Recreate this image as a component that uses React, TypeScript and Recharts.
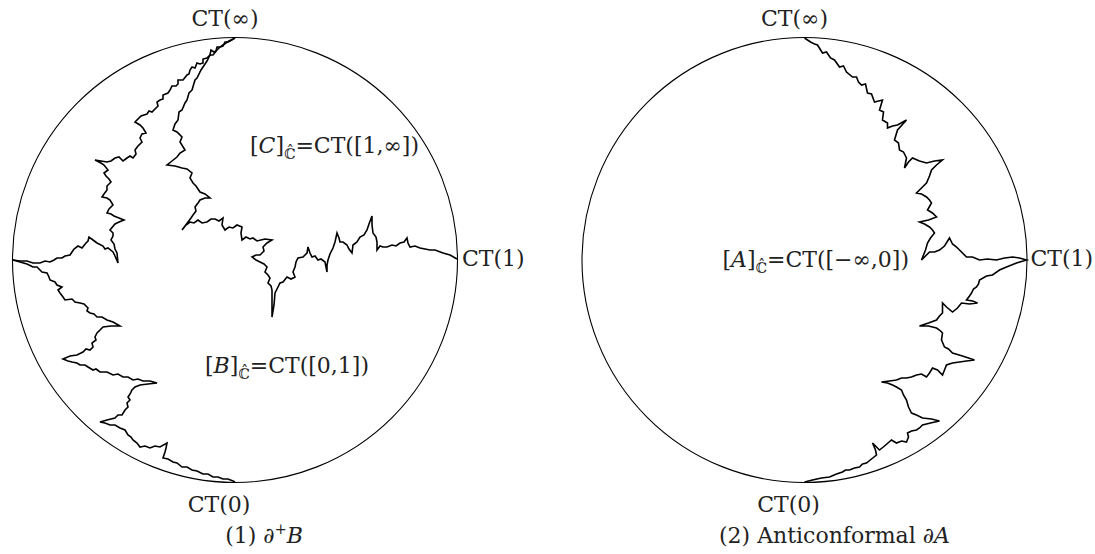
import { ScatterChart, Scatter, XAxis, YAxis, ReferenceDot } from 'recharts';

type Pt = [number, number];

// each panel uses the circle centre as origin, y up, radius 222.5
const RADIUS = 222.5;
const HEIGHT = 554;

// (1) left disc: boundary from CT(inf) down the left side to the leftmost touch point
const leftOuter: Pt[] = [
    [0, 222], [-5, 219], [-7, 218], [-10, 218], [-12, 214], [-15, 213], [-18, 213], [-19, 209], [-21, 208],
    [-24, 210], [-25, 205], [-28, 202], [-32, 201], [-32, 197], [-35, 196], [-38, 197], [-40, 192], [-43, 193],
    [-45, 190], [-46, 186], [-48, 185], [-52, 180], [-57, 180], [-57, 176], [-59, 174], [-63, 174], [-65, 170],
    [-67, 167], [-72, 165], [-72, 161], [-75, 160], [-78, 158], [-77, 154], [-79, 152], [-83, 148], [-86, 149],
    [-88, 146], [-94, 144], [-100, 138], [-95, 135], [-92, 132], [-89, 127], [-93, 126], [-95, 122], [-93, 118],
    [-97, 114], [-100, 110], [-99, 106], [-102, 102], [-105, 104], [-108, 102], [-112, 99], [-116, 103], [-120, 102],
    [-124, 99], [-128, 98], [-134, 99], [-140, 100], [-134, 97], [-131, 95], [-127, 90], [-131, 87], [-129, 84],
    [-126, 81], [-124, 78], [-128, 74], [-128, 70], [-131, 66], [-133, 63], [-128, 62], [-125, 60], [-122, 55],
    [-126, 51], [-128, 47], [-124, 46], [-121, 44], [-116, 42], [-111, 40], [-116, 38], [-120, 36], [-125, 30],
    [-122, 27], [-122, 24], [-124, 20], [-121, 16], [-120, 11], [-118, 7], [-117, -3], [-120, 4], [-122, 8],
    [-127, 12], [-130, 11], [-132, 14], [-138, 17], [-142, 20], [-146, 23], [-147, 19], [-149, 17], [-153, 12],
    [-157, 14], [-161, 11], [-163, 8], [-165, 5], [-170, 4], [-173, 2], [-178, 2], [-181, 0], [-185, -2],
    [-190, -1], [-195, -3], [-202, -3], [-208, -1], [-215, -1], [-222, 0],
];

// (1) left disc: boundary from the leftmost point down to CT(0)
const leftLower: Pt[] = [
    [-222, 0], [-215, -2], [-208, -4], [-202, -7], [-198, -7], [-193, -12], [-188, -13], [-186, -17], [-185, -20],
    [-180, -22], [-178, -25], [-173, -27], [-177, -30], [-175, -33], [-172, -37], [-170, -40], [-163, -39], [-160, -42],
    [-155, -43], [-151, -44], [-147, -48], [-148, -51], [-145, -53], [-141, -54], [-138, -57], [-133, -57], [-128, -60],
    [-122, -62], [-115, -66], [-124, -66], [-132, -67], [-135, -70], [-138, -73], [-140, -77], [-139, -80], [-143, -83],
    [-142, -87], [-145, -90], [-149, -89], [-152, -92], [-158, -95], [-165, -96], [-172, -99], [-167, -101], [-163, -102],
    [-158, -103], [-155, -105], [-150, -105], [-147, -107], [-142, -110], [-139, -109], [-135, -112], [-128, -112], [-122, -115],
    [-117, -114], [-112, -117], [-107, -117], [-102, -120], [-97, -119], [-92, -121], [-85, -121], [-78, -123], [-87, -124],
    [-95, -125], [-100, -127], [-103, -130], [-105, -134], [-107, -137], [-105, -140], [-108, -143], [-107, -147], [-110, -150],
    [-113, -155], [-117, -155], [-120, -158], [-128, -160], [-135, -162], [-130, -163], [-125, -165], [-120, -165], [-115, -168],
    [-110, -170], [-107, -175], [-104, -177], [-102, -180], [-98, -183], [-95, -187], [-90, -186], [-85, -188], [-80, -186],
    [-75, -187], [-68, -183], [-69, -188], [-70, -192], [-72, -198], [-67, -199], [-62, -202], [-58, -203], [-53, -207],
    [-48, -207], [-43, -210], [-38, -211], [-32, -214], [-27, -214], [-22, -217], [-17, -217], [-12, -219], [-7, -219],
    [-2, -221], [0, -222],
];

// (1) left disc: inner boundary from CT(inf) through the two tips to CT(1)
const leftInner: Pt[] = [
    [0, 222], [-6, 219], [-12, 215], [-15, 213], [-18, 210], [-22, 205], [-25, 205], [-28, 199], [-32, 193],
    [-34, 190], [-38, 182], [-40, 180], [-43, 170], [-46, 167], [-48, 160], [-50, 157], [-53, 150], [-56, 148],
    [-57, 140], [-60, 136], [-62, 130], [-58, 128], [-53, 123], [-55, 118], [-50, 110], [-55, 107], [-58, 103],
    [-63, 99], [-68, 95], [-60, 94], [-53, 92], [-48, 91], [-43, 87], [-45, 82], [-42, 77], [-39, 74],
    [-35, 68], [-30, 66], [-25, 62], [-30, 62], [-35, 60], [-37, 57], [-40, 53], [-39, 49], [-42, 45],
    [-44, 42], [-47, 38], [-53, 30], [-49, 35], [-45, 38], [-41, 37], [-37, 40], [-33, 37], [-28, 38],
    [-24, 41], [-20, 41], [-16, 39], [-12, 42], [-13, 35], [-10, 30], [-6, 33], [-2, 32], [2, 35],
    [7, 33], [6, 27], [7, 20], [11, 23], [15, 21], [18, 22], [22, 19], [30, 21], [37, 20],
    [32, 17], [28, 13], [29, 9], [25, 5], [21, 5], [17, 3], [21, 0], [25, -2], [29, -4],
    [32, -7], [30, -12], [33, -15], [35, -18], [33, -23], [36, -26], [37, -30], [37, -57], [39, -45],
    [40, -33], [42, -29], [45, -23], [48, -22], [52, -17], [56, -19], [60, -17], [58, -12], [60, -7],
    [61, -2], [63, 2], [68, 3], [72, 7], [73, 13], [75, 7], [77, 3], [80, 4], [83, 0],
    [86, 1], [90, -2], [92, -12], [92, -5], [93, 0], [95, 6], [98, 12], [100, 18], [102, 27],
    [104, 22], [105, 18], [108, 18], [112, 15], [114, 11], [117, 7], [118, 15], [122, 18], [125, 23],
    [129, 25], [132, 30], [134, 36], [137, 44], [137, 35], [138, 27], [141, 23], [142, 18], [142, 10],
    [145, 14], [148, 13], [152, 13], [157, 15], [161, 14], [165, 17], [169, 18], [172, 22], [173, 17],
    [175, 13], [180, 14], [185, 12], [190, 11], [195, 10], [200, 10], [208, 7], [215, 5], [222, 1],
];

// (2) right disc: boundary CT(inf) -> CT(1) -> CT(0)
const rightCurve: Pt[] = [
    [0, 222], [6, 218], [10, 216], [13, 215], [18, 207], [22, 208], [26, 202], [30, 200], [35, 193],
    [39, 194], [42, 188], [48, 183], [52, 183], [54, 178], [57, 175], [61, 176], [63, 167], [67, 166],
    [70, 158], [78, 160], [75, 150], [79, 148], [78, 140], [83, 137], [83, 132], [88, 134], [93, 135],
    [102, 140], [93, 130], [90, 120], [94, 117], [95, 110], [99, 108], [102, 102], [100, 92], [104, 98],
    [108, 102], [115, 99], [122, 97], [130, 99], [138, 100], [132, 95], [127, 90], [125, 84], [122, 77],
    [119, 74], [115, 70], [112, 67], [117, 66], [122, 63], [125, 60], [127, 57], [123, 50], [128, 47],
    [132, 43], [124, 40], [115, 38], [120, 36], [125, 33], [128, 30], [130, 27], [126, 22], [123, 17],
    [121, 10], [117, 0], [122, 5], [125, 8], [130, 8], [135, 10], [140, 14], [145, 22], [148, 16],
    [152, 13], [156, 9], [162, 3], [168, 3], [175, 0], [183, 1], [192, 0], [200, 2], [208, 3],
    [215, 2], [222, 0], [212, -3], [202, -7], [195, -10], [188, -15], [182, -16], [175, -20], [174, -24],
    [172, -27], [169, -29], [167, -33], [165, -36], [162, -40], [168, -41], [173, -43], [165, -44], [157, -43],
    [153, -48], [148, -52], [142, -47], [138, -43], [138, -53], [135, -56], [132, -60], [124, -63], [115, -66],
    [124, -66], [132, -68], [135, -70], [138, -73], [137, -80], [140, -87], [144, -89], [148, -93], [158, -96],
    [170, -100], [162, -101], [155, -102], [148, -103], [142, -105], [140, -110], [138, -115], [133, -110], [128, -108],
    [125, -113], [122, -117], [117, -114], [112, -115], [107, -117], [102, -118], [97, -118], [92, -120], [85, -121],
    [77, -122], [83, -123], [88, -125], [92, -127], [97, -130], [99, -135], [102, -140], [104, -147], [107, -153],
    [112, -155], [118, -158], [127, -159], [135, -161], [126, -163], [118, -165], [115, -168], [112, -170], [107, -171],
    [103, -173], [104, -177], [102, -182], [97, -181], [92, -183], [87, -180], [80, -186], [75, -190], [68, -183],
    [71, -190], [72, -195], [67, -199], [62, -203], [58, -204], [55, -207], [50, -208], [45, -210], [41, -210],
    [38, -212], [32, -214], [25, -217], [17, -218], [8, -220], [0, -222],
];

type Part = { t: string; it?: boolean; sub?: boolean; sup?: boolean };
type Lbl = { x: number; y: number; anchor: 'start' | 'middle'; parts: Part[] };

const HAT_C = 'ℂ̂';

const leftLabels: Lbl[] = [
    { x: -10, y: 234, anchor: 'middle', parts: [{ t: 'CT(∞)' }] },
    { x: 227, y: -6, anchor: 'start', parts: [{ t: 'CT(1)' }] },
    { x: -16, y: -252, anchor: 'middle', parts: [{ t: 'CT(0)' }] },
    { x: 15, y: 107, anchor: 'start', parts: [{ t: '[' }, { t: 'C', it: true }, { t: ']' }, { t: HAT_C, sub: true }, { t: '=CT([1,∞])' }] },
    { x: -30, y: -113, anchor: 'start', parts: [{ t: '[' }, { t: 'B', it: true }, { t: ']' }, { t: HAT_C, sub: true }, { t: '=CT([0,1])' }] },
    { x: 29, y: -283, anchor: 'middle', parts: [{ t: '(1) ∂' }, { t: '+', sup: true }, { t: 'B', it: true }] },
];

const rightLabels: Lbl[] = [
    { x: -10, y: 234, anchor: 'middle', parts: [{ t: 'CT(∞)' }] },
    { x: 226, y: -6, anchor: 'start', parts: [{ t: 'CT(1)' }] },
    { x: -16, y: -252, anchor: 'middle', parts: [{ t: 'CT(0)' }] },
    { x: -82, y: -7, anchor: 'start', parts: [{ t: '[' }, { t: 'A', it: true }, { t: ']' }, { t: HAT_C, sub: true }, { t: '=CT([−∞,0])' }] },
    { x: 30, y: -283, anchor: 'middle', parts: [{ t: '(2) Anticonformal ∂' }, { t: 'A', it: true }] },
];

const FONT = '"DejaVu Serif", serif';
const FONT_SIZE = 22;

function TexLabel(props: any) {
    const { viewBox, parts, anchor } = props;
    const x = viewBox.x + (viewBox.width || 0) / 2;
    const y = viewBox.y + (viewBox.height || 0) / 2;
    let shift = 0;
    return (
        <text x={x} y={y} textAnchor={anchor} fontFamily={FONT} fontSize={FONT_SIZE} fill="#222">
            {parts.map((p: Part, i: number) => {
                const target = p.sub ? 6 : p.sup ? -9 : 0;
                const dy = target - shift;
                shift = target;
                return (
                    <tspan key={i} dy={dy} fontStyle={p.it ? 'italic' : 'normal'}
                        fontSize={p.sub || p.sup ? FONT_SIZE * 0.65 : FONT_SIZE}>
                        {p.t}
                    </tspan>
                );
            })}
        </text>
    );
}

const noDot = () => <g />;

function Disc({ width, centre, curves, labels }: { width: number; centre: number; curves: Pt[][]; labels: Lbl[] }) {
    return (
        <ScatterChart width={width} height={HEIGHT} margin={{ top: 0, right: 0, bottom: 0, left: 0 }}>
            <XAxis type="number" dataKey="x" domain={[-centre, width - centre]} hide allowDataOverflow />
            <YAxis type="number" dataKey="y" domain={[260 - HEIGHT, 260]} hide allowDataOverflow />
            <ReferenceDot x={0} y={0} r={RADIUS} fill="none" stroke="#000" strokeWidth={1.1} ifOverflow="visible" />
            {curves.map((c, i) => (
                <Scatter key={i} data={c.map(([x, y]) => ({ x, y }))} fill="#000"
                    line={{ stroke: '#000', strokeWidth: 1.6 }} shape={noDot} isAnimationActive={false} />
            ))}
            {labels.map((l, i) => (
                <ReferenceDot key={'l' + i} x={l.x} y={l.y} r={0} fill="none" stroke="none" ifOverflow="visible"
                    label={<TexLabel parts={l.parts} anchor={l.anchor} />} />
            ))}
        </ScatterChart>
    );
}

export default function App() {
    return (
        <div style={{ display: 'flex', width: 1095, height: HEIGHT, background: '#fff' }}>
            <style>{'body{margin:0}'}</style>
            <Disc width={547} centre={235} curves={[leftOuter, leftLower, leftInner]} labels={leftLabels} />
            <Disc width={548} centre={257.5} curves={[rightCurve]} labels={rightLabels} />
        </div>
    );
}
